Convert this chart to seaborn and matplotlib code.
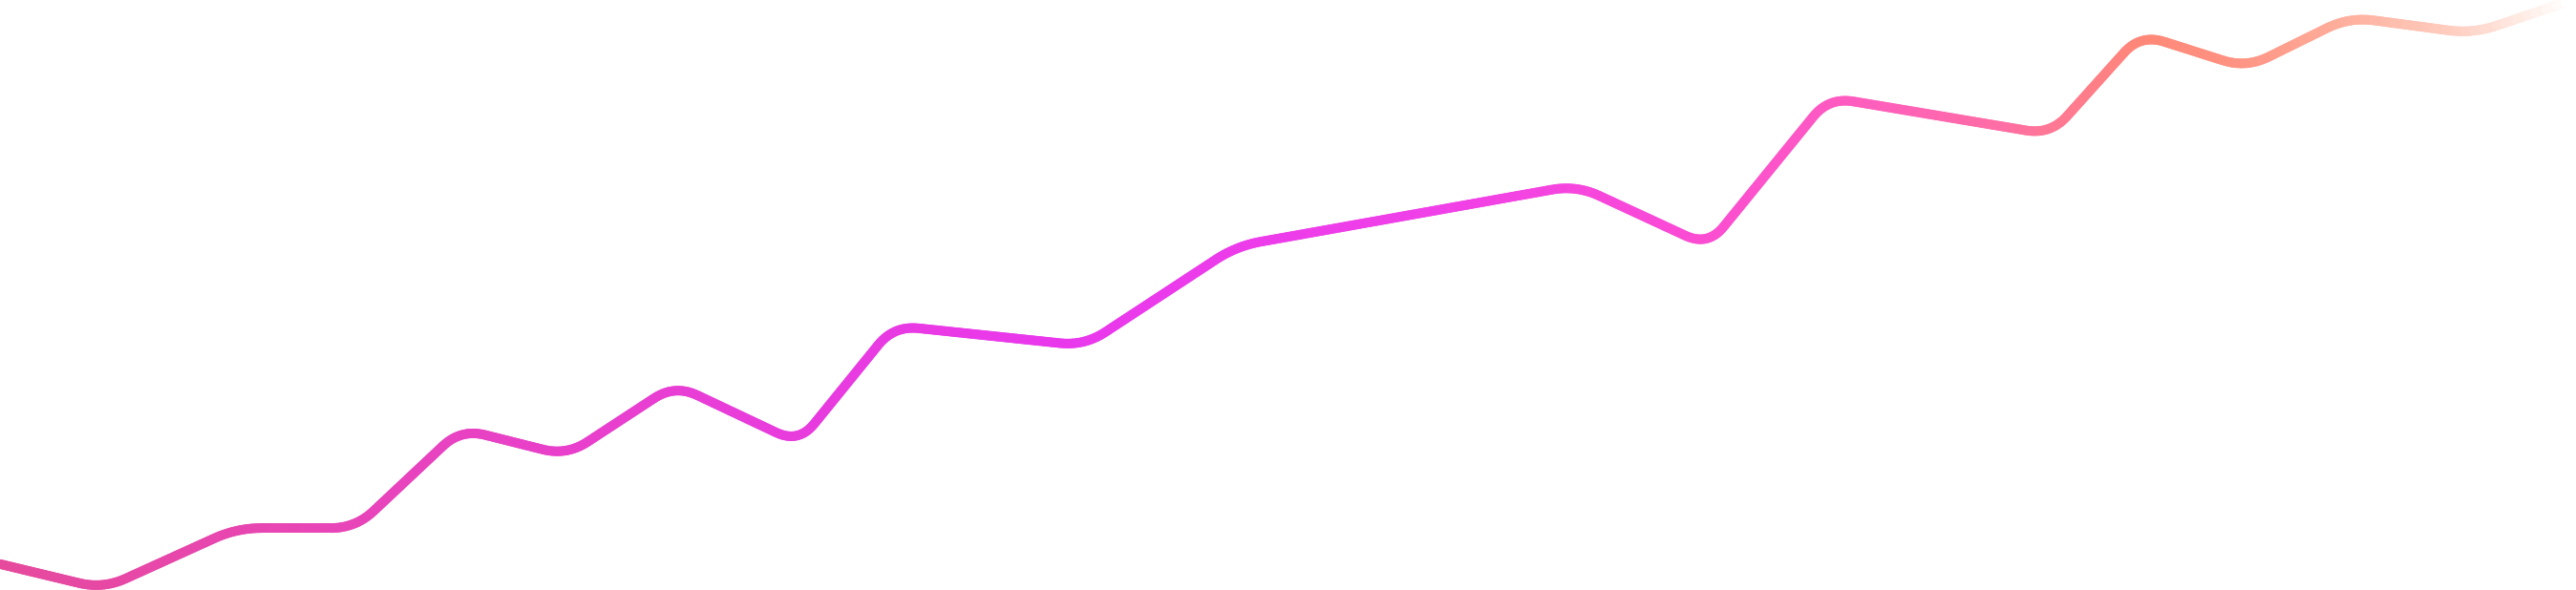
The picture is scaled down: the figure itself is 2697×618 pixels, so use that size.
import numpy as np
import pandas as pd
import matplotlib
matplotlib.use("Agg")
import matplotlib.pyplot as plt
import seaborn as sns
from matplotlib.collections import LineCollection
from matplotlib.colors import LinearSegmentedColormap

# ---- data (timeline position 0-100, value 0-100) ----
t_values = [0.0, 4.0, 9.2, 13.8, 17.9, 22.0, 26.2, 31.0, 34.7, 42.1,
            48.0, 61.2, 66.3, 71.0, 79.6, 83.1, 87.2, 91.2, 96.0, 100.0]
v_values = [4.4, 0.2, 10.5, 10.5, 27.3, 22.8, 34.8, 24.9, 44.8, 41.4,
            58.3, 68.6, 58.3, 83.5, 77.2, 94.2, 88.5, 97.1, 94.3, 100.2]

# gradient stops along the x axis (fraction of width) and colours
grad_pos = [0.0, 0.15, 0.30, 0.41, 0.56, 0.65, 0.72, 0.78, 0.834, 0.87, 0.92, 0.957, 0.986, 1.0]
grad_colors = ["#e64a9c", "#e844bc", "#e83cdc", "#e938ec", "#f040e8", "#fa4ad6",
               "#ff5cc0", "#ff6ea4", "#ff8878", "#ff9282", "#ffb4a2", "#ffcfc2",
               "#fff0ea", "#ffffff"]

sns.set_theme(style="white")
fig = plt.figure(figsize=(26.97, 6.18), dpi=100)
ax = fig.add_axes([0, 0, 1, 1])
df = pd.DataFrame({"t": t_values, "v": v_values})
sns.lineplot(data=df, x="t", y="v", ax=ax, color="#e83cdc", linewidth=7.2)
ax.set_xlim(0, 100)
ax.set_ylim(0, 100)
ax.axis("off")
fig.canvas.draw()

# build a rounded, gradient-coloured stroke following the seaborn line
line = ax.lines[0]
pts = ax.transData.transform(line.get_xydata())
R = 26.0
path = [pts[0]]
for i in range(1, len(pts) - 1):
    p0, p1, p2 = pts[i - 1], pts[i], pts[i + 1]
    d1, d2 = p0 - p1, p2 - p1
    l1, l2 = np.hypot(*d1), np.hypot(*d2)
    r = min(R, l1 / 2, l2 / 2)
    a = p1 + d1 / l1 * r
    b = p1 + d2 / l2 * r
    tt = np.linspace(0, 1, 16)[:, None]
    curve = (1 - tt) ** 2 * a + 2 * (1 - tt) * tt * p1 + tt ** 2 * b
    path.extend(list(curve))
path.append(pts[-1])
path = np.array(path)

# resample into short pieces for a smooth colour gradient
dense = [path[0]]
for p, q in zip(path[:-1], path[1:]):
    n = max(1, int(np.hypot(*(q - p)) / 3))
    for k in range(1, n + 1):
        dense.append(p + (q - p) * k / n)
dense = np.array(dense)
dense_data = ax.transData.inverted().transform(dense)
segs = np.stack([dense_data[:-1], dense_data[1:]], axis=1)

cmap = LinearSegmentedColormap.from_list("grad", list(zip(grad_pos, grad_colors)))
mid_x = (segs[:, 0, 0] + segs[:, 1, 0]) / 2 / 100.0
lc = LineCollection(segs, colors=cmap(np.clip(mid_x, 0, 1)), linewidths=7.2,
                    capstyle="round", joinstyle="round")
line.set_visible(False)
ax.add_collection(lc)

fig.savefig("out.png", dpi=100, facecolor="white")
